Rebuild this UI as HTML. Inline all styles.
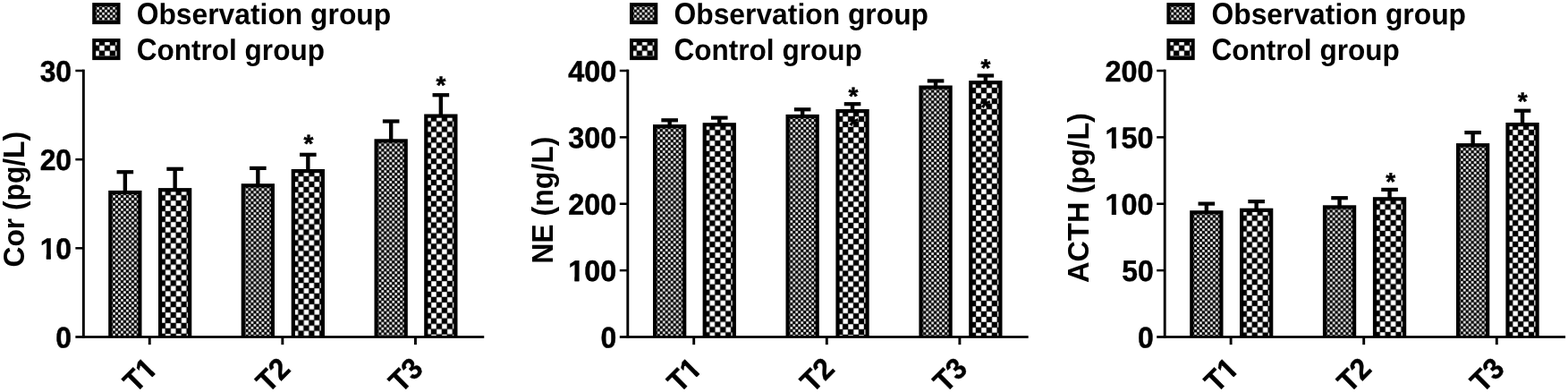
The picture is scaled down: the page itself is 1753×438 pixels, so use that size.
<!DOCTYPE html>
<html lang="en"><head><meta charset="utf-8"><title>Cor, NE and ACTH levels</title>
<style>
html,body{margin:0;padding:0;background:#fff;}
body{width:1753px;height:438px;overflow:hidden;}
svg{display:block;font-family:"Liberation Sans", sans-serif;font-weight:bold;font-size:32px;fill:#000;font-kerning:none;}
text{stroke:#000;stroke-width:0.45px;stroke-linejoin:round;}
.ns{stroke:none;}
</style></head><body>
<svg width="1753" height="438" viewBox="0 0 1753 438">
<defs>
<pattern id="pf" patternUnits="userSpaceOnUse" x="0" y="0" width="5.95" height="5.95"><rect width="5.95" height="5.95" fill="#000"/><rect x="0.21" y="0.21" width="2.55" height="2.55" fill="#fff"/><rect x="3.19" y="3.19" width="2.55" height="2.55" fill="#fff"/></pattern>
<pattern id="pc" patternUnits="userSpaceOnUse" x="0" y="0" width="11.9" height="11.9"><rect width="11.9" height="11.9" fill="#000"/><rect x="0.23" y="0.23" width="5.5" height="5.5" fill="#fff"/><rect x="6.18" y="6.18" width="5.5" height="5.5" fill="#fff"/></pattern>
</defs>
<rect width="1753" height="438" fill="#fff"/>
<g id="chart1">
<g transform="translate(105.05,4.8)"><rect x="-1.85" y="-1.7" width="31.3" height="24" fill="#000"/><rect x="2.15" y="2.3" width="23.3" height="16" fill="url(#pf)"/></g>
<text class="ns" transform="translate(152.7,27) rotate(0.03) scale(0.9944,1.024)"><tspan font-size="33.44" textLength="24.89" lengthAdjust="spacingAndGlyphs">O</tspan>bservation group</text>
<g transform="translate(105.05,44.8)"><rect x="-1.85" y="-1.7" width="31.3" height="24" fill="#000"/><rect x="2.15" y="2.3" width="23.3" height="16" fill="url(#pc)"/></g>
<text class="ns" transform="translate(152.7,67) rotate(0.03) scale(0.986,1.024)"><tspan font-size="33.44" textLength="23.11" lengthAdjust="spacingAndGlyphs">C</tspan>ontrol group</text>
<rect x="137.65" y="192.1" width="4.4" height="22.8"/>
<rect x="130.55" y="190.1" width="18.6" height="4.2"/>
<g transform="translate(123.05,215)"><rect x="-1.85" y="-2.1" width="37.3" height="163.6" fill="#000"/><rect x="2.35" y="2.1" width="28.9" height="159.4" fill="url(#pf)"/></g>
<rect x="193.45" y="188.7" width="4.4" height="23.4"/>
<rect x="186.35" y="186.7" width="18.6" height="4.2"/>
<g transform="translate(178.85,212.2)"><rect x="-1.85" y="-2.1" width="37.3" height="166.4" fill="#000"/><rect x="2.35" y="2.1" width="28.9" height="162.2" fill="url(#pc)"/></g>
<rect x="286.15" y="187.8" width="4.4" height="19.4"/>
<rect x="279.05" y="185.8" width="18.6" height="4.2"/>
<g transform="translate(271.55,207.3)"><rect x="-1.85" y="-2.1" width="37.3" height="171.3" fill="#000"/><rect x="2.35" y="2.1" width="28.9" height="167.1" fill="url(#pf)"/></g>
<rect x="342.15" y="172.7" width="4.4" height="18.3"/>
<rect x="335.05" y="170.7" width="18.6" height="4.2"/>
<g transform="translate(327.55,191.1)"><rect x="-1.85" y="-2.1" width="37.3" height="187.5" fill="#000"/><rect x="2.35" y="2.1" width="28.9" height="183.3" fill="url(#pc)"/></g>
<rect x="434.95" y="135.4" width="4.4" height="21.9"/>
<rect x="427.85" y="133.4" width="18.6" height="4.2"/>
<g transform="translate(420.35,157.4)"><rect x="-1.85" y="-2.1" width="37.3" height="221.2" fill="#000"/><rect x="2.35" y="2.1" width="28.9" height="217" fill="url(#pf)"/></g>
<rect x="490.65" y="106.1" width="4.4" height="23.4"/>
<rect x="483.55" y="104.1" width="18.6" height="4.2"/>
<g transform="translate(476.05,129.6)"><rect x="-1.85" y="-2.1" width="37.3" height="249" fill="#000"/><rect x="2.35" y="2.1" width="28.9" height="244.8" fill="url(#pc)"/></g>
<text transform="translate(345.05,170.06) rotate(0.03)" text-anchor="middle" font-size="28">*</text>
<text transform="translate(493,104.76) rotate(0.03)" text-anchor="middle" font-size="28">*</text>
<rect x="91.9" y="77.65" width="2.9" height="300.2"/>
<rect x="84.35" y="375.15" width="456.9" height="2.7"/>
<text transform="translate(80.05,388.45) rotate(0.03) scale(0.995,1.03)" text-anchor="end">0</text>
<rect x="84.35" y="276.08" width="9" height="2.5"/>
<g transform="translate(80.05,289.28) rotate(0.03) scale(0.995,1.03)"><text text-anchor="end">10</text><rect x="-34.78" y="-4.37" width="6.43" height="5.57" fill="#fff"/><rect x="-23.51" y="-4.37" width="6.03" height="5.57" fill="#fff"/><rect x="-28.34" y="-4.77" width="4.83" height="4.99"/></g>
<rect x="84.35" y="176.92" width="9" height="2.5"/>
<text transform="translate(80.05,190.12) rotate(0.03) scale(0.995,1.03)" text-anchor="end">20</text>
<rect x="84.35" y="77.75" width="9" height="2.5"/>
<text transform="translate(80.05,90.95) rotate(0.03) scale(0.995,1.03)" text-anchor="end">30</text>
<rect x="165.8" y="376.5" width="2.9" height="8.6"/>
<g transform="translate(177.55,413.8) rotate(-45) scale(0.99,1.04)"><text text-anchor="end">T1</text><rect x="-16.98" y="-4.37" width="6.43" height="5.57" fill="#fff"/><rect x="-5.72" y="-4.37" width="6.03" height="5.57" fill="#fff"/><rect x="-10.55" y="-4.77" width="4.83" height="4.99"/></g>
<rect x="314.4" y="376.5" width="2.9" height="8.6"/>
<text transform="translate(326.15,413.8) rotate(-45) scale(0.99,1.04)" text-anchor="end">T2</text>
<rect x="463" y="376.5" width="2.9" height="8.6"/>
<text transform="translate(474.75,413.8) rotate(-45) scale(0.99,1.04)" text-anchor="end">T3</text>
<text class="ns" transform="translate(26.5,298.4) rotate(-90) scale(0.9914,1.035)"><tspan font-size="32.77" textLength="23.11" lengthAdjust="spacingAndGlyphs">C</tspan>or (pg/<tspan font-size="32.77" textLength="19.55" lengthAdjust="spacingAndGlyphs">L</tspan>)</text>
</g>
<g id="chart2">
<g transform="translate(705.85,4.8)"><rect x="-1.85" y="-1.7" width="31.3" height="24" fill="#000"/><rect x="2.15" y="2.3" width="23.3" height="16" fill="url(#pf)"/></g>
<text class="ns" transform="translate(753.5,27) rotate(0.03) scale(0.9944,1.024)"><tspan font-size="33.44" textLength="24.89" lengthAdjust="spacingAndGlyphs">O</tspan>bservation group</text>
<g transform="translate(705.85,44.8)"><rect x="-1.85" y="-1.7" width="31.3" height="24" fill="#000"/><rect x="2.15" y="2.3" width="23.3" height="16" fill="url(#pc)"/></g>
<text class="ns" transform="translate(753.5,67) rotate(0.03) scale(0.986,1.024)"><tspan font-size="33.44" textLength="23.11" lengthAdjust="spacingAndGlyphs">C</tspan>ontrol group</text>
<rect x="746.45" y="134.2" width="4.4" height="6.9"/>
<rect x="739.35" y="132.2" width="18.6" height="4.2"/>
<g transform="translate(731.85,141.2)"><rect x="-1.85" y="-2.1" width="37.3" height="237.4" fill="#000"/><rect x="2.35" y="2.1" width="28.9" height="233.2" fill="url(#pf)"/></g>
<rect x="802.05" y="131.5" width="4.4" height="7.7"/>
<rect x="794.95" y="129.5" width="18.6" height="4.2"/>
<g transform="translate(787.45,139.3)"><rect x="-1.85" y="-2.1" width="37.3" height="239.3" fill="#000"/><rect x="2.35" y="2.1" width="28.9" height="235.1" fill="url(#pc)"/></g>
<rect x="894.95" y="122.2" width="4.4" height="7.7"/>
<rect x="887.85" y="120.2" width="18.6" height="4.2"/>
<g transform="translate(880.35,130)"><rect x="-1.85" y="-2.1" width="37.3" height="248.6" fill="#000"/><rect x="2.35" y="2.1" width="28.9" height="244.4" fill="url(#pf)"/></g>
<rect x="950.85" y="116.1" width="4.4" height="7.9"/>
<rect x="943.75" y="114.1" width="18.6" height="4.2"/>
<g transform="translate(936.25,124.1)"><rect x="-1.85" y="-2.1" width="37.3" height="254.5" fill="#000"/><rect x="2.35" y="2.1" width="28.9" height="250.3" fill="url(#pc)"/></g>
<rect x="1043.85" y="90.3" width="4.4" height="7.2"/>
<rect x="1036.75" y="88.3" width="18.6" height="4.2"/>
<g transform="translate(1029.25,97.6)"><rect x="-1.85" y="-2.1" width="37.3" height="281" fill="#000"/><rect x="2.35" y="2.1" width="28.9" height="276.8" fill="url(#pf)"/></g>
<rect x="1099.65" y="84.4" width="4.4" height="7.7"/>
<rect x="1092.55" y="82.4" width="18.6" height="4.2"/>
<g transform="translate(1085.05,92.2)"><rect x="-1.85" y="-2.1" width="37.3" height="286.4" fill="#000"/><rect x="2.35" y="2.1" width="28.9" height="282.2" fill="url(#pc)"/></g>
<text transform="translate(954,117.06) rotate(0.03)" text-anchor="middle" font-size="28">*</text>
<text transform="translate(1102,85.56) rotate(0.03)" text-anchor="middle" font-size="28">*</text>
<text transform="translate(954.1,149.56) rotate(0.03)" text-anchor="middle" font-size="28">*</text>
<text transform="translate(1101.8,129.51) rotate(0.03)" text-anchor="middle" font-size="28">*</text>
<rect x="700.35" y="77.65" width="2.9" height="300.2"/>
<rect x="692.8" y="375.15" width="456.9" height="2.7"/>
<text transform="translate(689.2,388.45) rotate(0.03) scale(0.995,1.03)" text-anchor="end">0</text>
<rect x="692.8" y="300.88" width="9" height="2.5"/>
<g transform="translate(689.2,314.07) rotate(0.03) scale(1.012,1.03)"><text text-anchor="end">100</text><rect x="-52.58" y="-4.37" width="6.43" height="5.57" fill="#fff"/><rect x="-41.31" y="-4.37" width="6.03" height="5.57" fill="#fff"/><rect x="-46.14" y="-4.77" width="4.83" height="4.99"/></g>
<rect x="692.8" y="226.5" width="9" height="2.5"/>
<text transform="translate(689.2,239.7) rotate(0.03) scale(1.012,1.03)" text-anchor="end">200</text>
<rect x="692.8" y="152.12" width="9" height="2.5"/>
<text transform="translate(689.2,165.32) rotate(0.03) scale(1.012,1.03)" text-anchor="end">300</text>
<rect x="692.8" y="77.75" width="9" height="2.5"/>
<text transform="translate(689.2,90.95) rotate(0.03) scale(1.012,1.03)" text-anchor="end">400</text>
<rect x="774.25" y="376.5" width="2.9" height="8.6"/>
<g transform="translate(786,413.8) rotate(-45) scale(0.99,1.04)"><text text-anchor="end">T1</text><rect x="-16.98" y="-4.37" width="6.43" height="5.57" fill="#fff"/><rect x="-5.72" y="-4.37" width="6.03" height="5.57" fill="#fff"/><rect x="-10.55" y="-4.77" width="4.83" height="4.99"/></g>
<rect x="922.85" y="376.5" width="2.9" height="8.6"/>
<text transform="translate(934.6,413.8) rotate(-45) scale(0.99,1.04)" text-anchor="end">T2</text>
<rect x="1071.45" y="376.5" width="2.9" height="8.6"/>
<text transform="translate(1083.2,413.8) rotate(-45) scale(0.99,1.04)" text-anchor="end">T3</text>
<text class="ns" transform="translate(617.7,294.8) rotate(-90) scale(1.001,1.035)"><tspan font-size="32.77" textLength="44.45" lengthAdjust="spacingAndGlyphs">NE</tspan> (ng/<tspan font-size="32.77" textLength="19.55" lengthAdjust="spacingAndGlyphs">L</tspan>)</text>
</g>
<g id="chart3">
<g transform="translate(1306.25,4.8)"><rect x="-1.85" y="-1.7" width="31.3" height="24" fill="#000"/><rect x="2.15" y="2.3" width="23.3" height="16" fill="url(#pf)"/></g>
<text class="ns" transform="translate(1354.5,27) rotate(0.03) scale(0.9944,1.024)"><tspan font-size="33.44" textLength="24.89" lengthAdjust="spacingAndGlyphs">O</tspan>bservation group</text>
<g transform="translate(1306.25,44.8)"><rect x="-1.85" y="-1.7" width="31.3" height="24" fill="#000"/><rect x="2.15" y="2.3" width="23.3" height="16" fill="url(#pc)"/></g>
<text class="ns" transform="translate(1354.5,67) rotate(0.03) scale(0.986,1.024)"><tspan font-size="33.44" textLength="23.11" lengthAdjust="spacingAndGlyphs">C</tspan>ontrol group</text>
<rect x="1346.65" y="227.5" width="4.4" height="9.7"/>
<rect x="1339.55" y="225.5" width="18.6" height="4.2"/>
<g transform="translate(1332.05,237.3)"><rect x="-1.85" y="-2.1" width="37.3" height="141.3" fill="#000"/><rect x="2.35" y="2.1" width="28.9" height="137.1" fill="url(#pf)"/></g>
<rect x="1402.45" y="225" width="4.4" height="9.7"/>
<rect x="1395.35" y="223" width="18.6" height="4.2"/>
<g transform="translate(1387.85,234.8)"><rect x="-1.85" y="-2.1" width="37.3" height="143.8" fill="#000"/><rect x="2.35" y="2.1" width="28.9" height="139.6" fill="url(#pc)"/></g>
<rect x="1495.35" y="221.1" width="4.4" height="10.2"/>
<rect x="1488.25" y="219.1" width="18.6" height="4.2"/>
<g transform="translate(1480.75,231.4)"><rect x="-1.85" y="-2.1" width="37.3" height="147.2" fill="#000"/><rect x="2.35" y="2.1" width="28.9" height="143" fill="url(#pf)"/></g>
<rect x="1551.35" y="211.8" width="4.4" height="10.4"/>
<rect x="1544.25" y="209.8" width="18.6" height="4.2"/>
<g transform="translate(1536.75,222.3)"><rect x="-1.85" y="-2.1" width="37.3" height="156.3" fill="#000"/><rect x="2.35" y="2.1" width="28.9" height="152.1" fill="url(#pc)"/></g>
<rect x="1644.45" y="148" width="4.4" height="14.1"/>
<rect x="1637.35" y="146" width="18.6" height="4.2"/>
<g transform="translate(1629.85,162.2)"><rect x="-1.85" y="-2.1" width="37.3" height="216.4" fill="#000"/><rect x="2.35" y="2.1" width="28.9" height="212.2" fill="url(#pf)"/></g>
<rect x="1699.85" y="123.6" width="4.4" height="15.4"/>
<rect x="1692.75" y="121.6" width="18.6" height="4.2"/>
<g transform="translate(1685.25,139.1)"><rect x="-1.85" y="-2.1" width="37.3" height="239.5" fill="#000"/><rect x="2.35" y="2.1" width="28.9" height="235.3" fill="url(#pc)"/></g>
<text transform="translate(1554.6,212.46) rotate(0.03)" text-anchor="middle" font-size="28">*</text>
<text transform="translate(1702.2,122.66) rotate(0.03)" text-anchor="middle" font-size="28">*</text>
<rect x="1300.75" y="77.65" width="2.9" height="300.2"/>
<rect x="1293.2" y="375.15" width="456.9" height="2.7"/>
<text transform="translate(1289.6,388.45) rotate(0.03) scale(0.995,1.03)" text-anchor="end">0</text>
<rect x="1293.2" y="300.88" width="9" height="2.5"/>
<text transform="translate(1289.6,314.07) rotate(0.03) scale(0.995,1.03)" text-anchor="end">50</text>
<rect x="1293.2" y="226.5" width="9" height="2.5"/>
<g transform="translate(1289.6,239.7) rotate(0.03) scale(1.012,1.03)"><text text-anchor="end">100</text><rect x="-52.58" y="-4.37" width="6.43" height="5.57" fill="#fff"/><rect x="-41.31" y="-4.37" width="6.03" height="5.57" fill="#fff"/><rect x="-46.14" y="-4.77" width="4.83" height="4.99"/></g>
<rect x="1293.2" y="152.12" width="9" height="2.5"/>
<g transform="translate(1289.6,165.32) rotate(0.03) scale(1.012,1.03)"><text text-anchor="end">150</text><rect x="-52.58" y="-4.37" width="6.43" height="5.57" fill="#fff"/><rect x="-41.31" y="-4.37" width="6.03" height="5.57" fill="#fff"/><rect x="-46.14" y="-4.77" width="4.83" height="4.99"/></g>
<rect x="1293.2" y="77.75" width="9" height="2.5"/>
<text transform="translate(1289.6,90.95) rotate(0.03) scale(1.012,1.03)" text-anchor="end">200</text>
<rect x="1374.65" y="376.5" width="2.9" height="8.6"/>
<g transform="translate(1386.4,413.8) rotate(-45) scale(0.99,1.04)"><text text-anchor="end">T1</text><rect x="-16.98" y="-4.37" width="6.43" height="5.57" fill="#fff"/><rect x="-5.72" y="-4.37" width="6.03" height="5.57" fill="#fff"/><rect x="-10.55" y="-4.77" width="4.83" height="4.99"/></g>
<rect x="1523.25" y="376.5" width="2.9" height="8.6"/>
<text transform="translate(1535,413.8) rotate(-45) scale(0.99,1.04)" text-anchor="end">T2</text>
<rect x="1671.85" y="376.5" width="2.9" height="8.6"/>
<text transform="translate(1683.6,413.8) rotate(-45) scale(0.99,1.04)" text-anchor="end">T3</text>
<text class="ns" transform="translate(1217.2,315.9) rotate(-90) scale(1.017,1.035)"><tspan font-size="32.77" textLength="88.88" lengthAdjust="spacingAndGlyphs">ACTH</tspan> (pg/<tspan font-size="32.77" textLength="19.55" lengthAdjust="spacingAndGlyphs">L</tspan>)</text>
</g>
</svg>
</body></html>
